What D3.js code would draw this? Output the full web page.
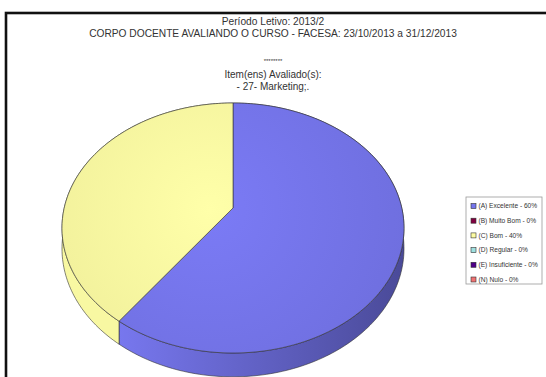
<!DOCTYPE html>
<html>
<head>
<meta charset="utf-8">
<script src="https://cdn.jsdelivr.net/npm/d3@7"></script>
<style>
  html, body { margin: 0; padding: 0; background: #fff; }
  svg { display: block; }
  text { font-family: "Liberation Sans", Arial, sans-serif; fill: #333; }
</style>
</head>
<body>
<script>
// Answer categories, their shares (%) and slice colours
const categories = ["(A) Excelente", "(B) Muito Bom", "(C) Bom", "(D) Regular", "(E) Insuficiente", "(N) Nulo"];
const values = [60, 0, 40, 0, 0, 0];
const colors = ["#7676ec", "#800040", "#fdfca2", "#9ee0e0", "#4f0088", "#f07272"];
const sideColors = [["#7878f0", "#4a4a98"], ["#600030", "#400020"], ["#f8f8a2", "#eaea94"], ["#80c0c0", "#609090"], ["#3a0066", "#280048"], ["#d06060", "#a04848"]];

const titleLines = ["Período Letivo: 2013/2", "CORPO DOCENTE AVALIANDO O CURSO - FACESA: 23/10/2013 a 31/12/2013"];
const subtitleLines = ["********", "Item(ens) Avaliado(s):", "- 27- Marketing;."];

const W = 546, H = 377;
const svg = d3.select("body").append("svg").attr("width", W).attr("height", H);

// Outer frame (runs past the right and bottom edges)
svg.append("rect").attr("x", 6).attr("y", 13).attr("width", 560).attr("height", 400)
  .attr("fill", "none").attr("stroke", "#111").attr("stroke-width", 2.6);

// Titles
svg.append("g").selectAll("text").data(titleLines).join("text")
  .attr("x", 273).attr("y", (d, i) => 25 + i * 12)
  .attr("text-anchor", "middle").attr("font-size", 10.2).text(d => d);
svg.append("g").selectAll("text").data(subtitleLines).join("text")
  .attr("x", 273).attr("y", (d, i) => i === 0 ? 63 : 66 + i * 12)
  .attr("text-anchor", "middle").attr("font-size", (d, i) => i === 0 ? 6 : 10).text(d => d);

// Perspective-tilted 3D pie
const cx = 233, cy = 208;   // projected centre of the top face
const A = 168.8, B = 121.8, p = 0.16, depth = 20;
const proj = (theta, z) => {
  const u = Math.sin(theta), v = -Math.cos(theta);
  const w = 1 - p * v;
  return [cx + A * u / w, cy + (B * v + z) / w];
};

const pie = d3.pie().sort(null).value(d => d.value);
const arcs = pie(categories.map((c, i) => ({ name: c, value: values[i], i })))
  .filter(a => a.data.value > 0);

const line = d3.line();
const sample = (a0, a1, z) => {
  const n = Math.max(2, Math.ceil((a1 - a0) / 0.02));
  return d3.range(n + 1).map(k => proj(a0 + (a1 - a0) * k / n, z));
};

const defs = svg.append("defs");
arcs.forEach(a => {
  const i = a.data.i;
  const lg = defs.append("linearGradient").attr("id", "side" + i)
    .attr("gradientUnits", "userSpaceOnUse").attr("x1", 62).attr("x2", 404).attr("y1", 0).attr("y2", 0);
  lg.append("stop").attr("offset", "0.15").attr("stop-color", sideColors[i][0]);
  lg.append("stop").attr("offset", "1").attr("stop-color", sideColors[i][1]);
  const rg = defs.append("radialGradient").attr("id", "top" + i)
    .attr("gradientUnits", "userSpaceOnUse").attr("cx", 210).attr("cy", 210).attr("r", 200);
  rg.append("stop").attr("offset", "0").attr("stop-color", d3.color(colors[i]).brighter(0.12));
  rg.append("stop").attr("offset", "1").attr("stop-color", d3.color(colors[i]).darker(0.16));
});

// Side walls first, then top faces over them
svg.append("g").selectAll("path").data(arcs).join("path")
  .attr("d", a => {
    const top = sample(a.startAngle, a.endAngle, 0);
    const bot = sample(a.startAngle, a.endAngle, depth).reverse();
    return line(top.concat(bot)) + "Z";
  })
  .attr("fill", a => `url(#side${a.data.i})`)
  .attr("stroke", "#333").attr("stroke-width", 0.6).attr("stroke-linejoin", "round");

svg.append("g").selectAll("path").data(arcs).join("path")
  .attr("d", a => line([[cx, cy]].concat(sample(a.startAngle, a.endAngle, 0))) + "Z")
  .attr("fill", a => `url(#top${a.data.i})`)
  .attr("stroke", "#333").attr("stroke-width", 0.6).attr("stroke-linejoin", "round");

// Legend
const lg = svg.append("g").attr("transform", "translate(466,197)");
lg.append("rect").attr("width", 76).attr("height", 87)
  .attr("fill", "#fff").attr("stroke", "#999").attr("stroke-width", 0.8);
const item = lg.selectAll("g").data(categories).join("g")
  .attr("transform", (d, i) => `translate(5,${9 + i * 14.7})`);
item.append("rect").attr("x", 0).attr("y", -2.5).attr("width", 5).attr("height", 5)
  .attr("fill", (d, i) => colors[i]).attr("stroke", "#333").attr("stroke-width", 0.6);
item.append("text").attr("x", 7.5).attr("y", 2.3).attr("font-size", 6.6)
  .text((d, i) => `${d} - ${values[i]}%`);
</script>
</body>
</html>
